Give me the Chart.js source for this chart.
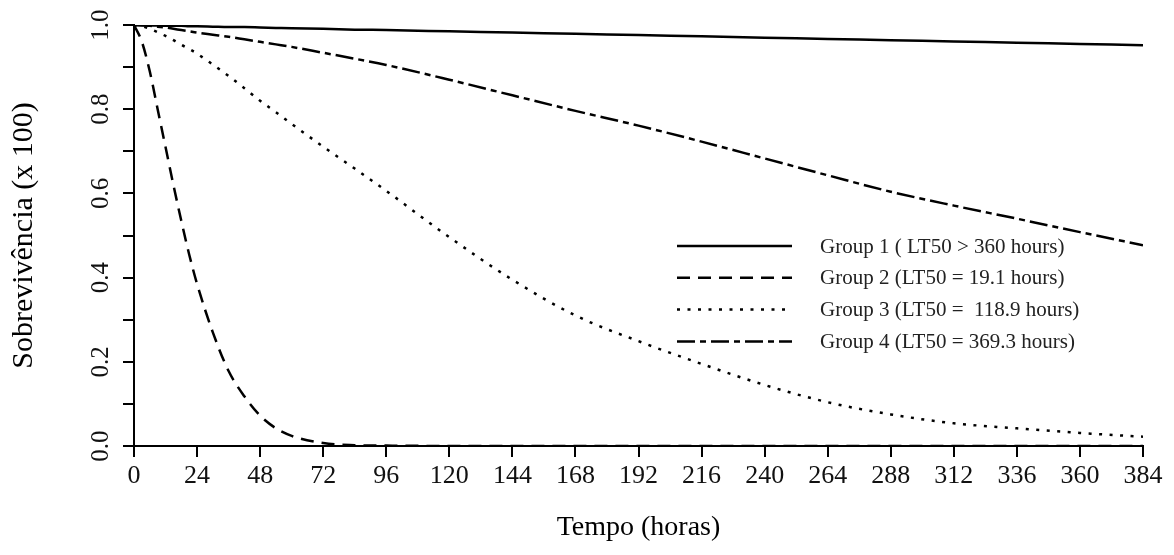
<!DOCTYPE html>
<html>
<head>
<meta charset="utf-8">
<script src="https://cdn.jsdelivr.net/npm/chart.js@4.4.1/dist/chart.umd.min.js"></script>
<style>
  body { margin: 0; background: #fff; }
</style>
</head>
<body>
<canvas id="myChart" width="1174" height="555"></canvas>
<script>
// temps (heures) et survie de chaque groupe
const hours = [0, 3, 6, 9, 12, 15, 18, 21, 24, 30, 36, 42, 48, 54, 60, 72, 84, 96, 120, 144, 168, 192, 216, 240, 264, 288, 312, 336, 360, 384];

const group1 = [1.000, 1.000, 0.999, 0.999, 0.998, 0.998, 0.998, 0.997, 0.997, 0.996, 0.995, 0.995, 0.994, 0.993, 0.992, 0.991, 0.989, 0.988, 0.985, 0.982, 0.979, 0.976, 0.973, 0.970, 0.967, 0.964, 0.961, 0.958, 0.955, 0.952];
const group2 = [1.000, 0.960, 0.890, 0.800, 0.710, 0.620, 0.535, 0.455, 0.385, 0.270, 0.178, 0.118, 0.072, 0.042, 0.024, 0.007, 0.002, 0.001, 0, 0, 0, 0, 0, 0, 0, 0, 0, 0, 0, 0];
const group3 = [1.000, 0.997, 0.991, 0.983, 0.974, 0.964, 0.953, 0.943, 0.932, 0.906, 0.879, 0.850, 0.820, 0.793, 0.765, 0.711, 0.659, 0.606, 0.496, 0.395, 0.310, 0.249, 0.195, 0.145, 0.104, 0.075, 0.054, 0.042, 0.031, 0.022];
const group4 = [1.000, 0.999, 0.998, 0.996, 0.994, 0.991, 0.988, 0.985, 0.982, 0.977, 0.972, 0.966, 0.960, 0.954, 0.948, 0.934, 0.920, 0.905, 0.870, 0.833, 0.796, 0.761, 0.723, 0.683, 0.643, 0.604, 0.571, 0.540, 0.508, 0.477];

const labels = [
  'Group 1 ( LT50 > 360 hours)',
  'Group 2 (LT50 = 19.1 hours)',
  'Group 3 (LT50 =  118.9 hours)',
  'Group 4 (LT50 = 369.3 hours)'
];

const serif = 'Liberation Serif';

const toPoints = (vals) => hours.map((h, i) => ({ x: h, y: vals[i] }));

const mkSet = (label, vals, dash) => ({
  label: label,
  data: toPoints(vals),
  borderColor: '#000',
  borderWidth: 2.5,
  borderDash: dash,
  borderCapStyle: 'butt',
  pointRadius: 0,
  fill: false,
  cubicInterpolationMode: 'monotone'
});

// legende dessinee dans la zone du graphique
const legendInside = {
  id: 'legendInside',
  afterDatasetsDraw(chart) {
    const ctx = chart.ctx;
    const area = chart.chartArea;
    const x0 = area.left + 543;
    const x1 = x0 + 115;
    const xt = x0 + 143;
    const y0 = area.top + 221;
    const step = 31.8;
    ctx.save();
    chart.data.datasets.forEach((ds, i) => {
      const y = y0 + i * step;
      ctx.beginPath();
      ctx.setLineDash(ds.borderDash || []);
      ctx.lineWidth = ds.borderWidth;
      ctx.strokeStyle = ds.borderColor;
      ctx.moveTo(x0, y);
      ctx.lineTo(x1, y);
      ctx.stroke();
      ctx.setLineDash([]);
      ctx.fillStyle = '#222';
      ctx.font = `21px "${serif}"`;
      ctx.textBaseline = 'middle';
      ctx.textAlign = 'left';
      ctx.fillText(ds.label, xt, y + 1);
    });
    ctx.restore();
  }
};

let myChart;

const setup = () => {
  const ctxt = document.getElementById('myChart').getContext('2d');

  myChart = new Chart(ctxt, {
    type: 'line',
    data: {
      datasets: [
        mkSet(labels[0], group1, []),
        mkSet(labels[1], group2, [13, 8]),
        mkSet(labels[2], group3, [3, 7.5]),
        mkSet(labels[3], group4, [18, 5, 6, 5])
      ]
    },
    plugins: [legendInside],
    options: {
      responsive: false,
      animation: false,
      layout: { padding: { left: 0, right: 31, top: 25, bottom: 0 } },
      plugins: {
        legend: { display: false },
        tooltip: { enabled: false }
      },
      scales: {
        x: {
          type: 'linear',
          min: 0,
          max: 384,
          afterFit: (s) => { s.height = 109; },
          ticks: {
            stepSize: 24,
            autoSkip: false,
            maxRotation: 0,
            padding: 4,
            color: '#111',
            font: { family: serif, size: 26 }
          },
          grid: {
            drawOnChartArea: false,
            drawTicks: true,
            tickLength: 11,
            color: '#000',
            lineWidth: 2
          },
          border: { display: true, color: '#000', width: 2 },
          title: {
            display: true,
            text: 'Tempo (horas)',
            color: '#000',
            font: { family: serif, size: 28 },
            padding: { top: 0, bottom: 11 }
          }
        },
        y: {
          min: 0,
          max: 1,
          afterFit: (s) => { s.width = 134; },
          ticks: {
            stepSize: 0.1,
            minRotation: 90,
            maxRotation: 90,
            crossAlign: 'center',
            padding: 6,
            color: '#111',
            font: { family: serif, size: 25 },
            callback: (v) => (Math.round(v * 10) % 2 === 0 ? v.toFixed(1) : '')
          },
          grid: {
            drawOnChartArea: false,
            drawTicks: true,
            tickLength: 11,
            color: '#000',
            lineWidth: 2
          },
          border: { display: true, color: '#000', width: 2 },
          title: {
            display: true,
            text: 'Sobrevivência (x 100)',
            color: '#000',
            font: { family: serif, size: 30 },
            padding: { top: 6, bottom: 0 }
          }
        }
      }
    }
  });
};

window.addEventListener('DOMContentLoaded', setup);
</script>
</body>
</html>
